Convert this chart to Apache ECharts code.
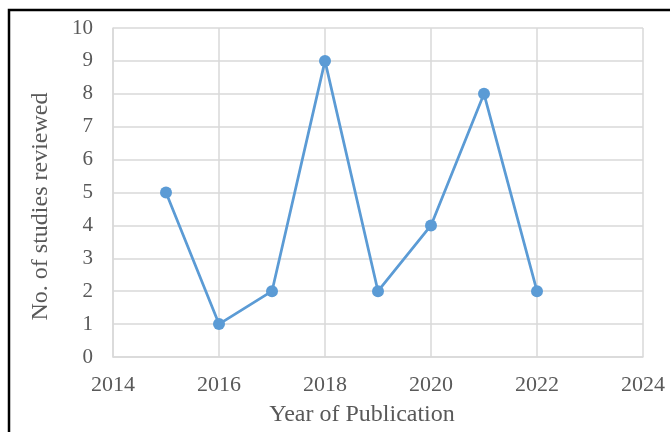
<!DOCTYPE html>
<html>
<head>
<meta charset="utf-8">
<style>
  * { margin: 0; padding: 0; }
  #chart-container { width: 670px; height: 432px; background: #fff; }
</style>
</head>
<body>
<div id="chart-container"></div>
<script src="https://cdn.jsdelivr.net/npm/echarts@6/dist/echarts.min.js"></script>
<script>
var years = [2015, 2016, 2017, 2018, 2019, 2020, 2021, 2022];
var studies = [5, 1, 2, 9, 2, 4, 8, 2];

var chart = echarts.init(document.getElementById('chart-container'), null, { renderer: 'canvas' });

var textColor = '#595959';
var gridColor = '#D9D9D9';
var font = '"Liberation Serif", "DejaVu Serif", serif';

var option = {
  animation: false,
  graphic: [{
    type: 'rect',
    shape: { x: 9, y: 10, width: 700, height: 460 },
    style: { fill: 'none', stroke: '#000', lineWidth: 2.5 }
  }],
  grid: { left: 113, right: 27, top: 28, bottom: 74 },
  xAxis: {
    type: 'value',
    min: 2014,
    max: 2024,
    interval: 2,
    name: 'Year of Publication',
    nameLocation: 'middle',
    nameGap: 46,
    nameTextStyle: { color: textColor, fontSize: 24, fontFamily: font, padding: [0, 32, 0, 0] },
    axisLine: { show: true, lineStyle: { color: gridColor, width: 1.5 } },
    axisTick: { show: false },
    axisLabel: {
      color: textColor, fontSize: 22, fontFamily: font, margin: 17,
      formatter: function (v) { return String(v); }
    },
    splitLine: { show: true, lineStyle: { color: gridColor, width: 1.5 } }
  },
  yAxis: {
    type: 'value',
    min: 0,
    max: 10,
    interval: 1,
    name: 'No. of studies reviewed',
    nameLocation: 'middle',
    nameGap: 60,
    nameTextStyle: { color: textColor, fontSize: 24, fontFamily: font, padding: [0, 28, 0, 0] },
    axisLine: { show: true, lineStyle: { color: gridColor, width: 1.5 } },
    axisTick: { show: false },
    axisLabel: { color: textColor, fontSize: 21, fontFamily: font, margin: 20 },
    splitLine: { show: true, lineStyle: { color: gridColor, width: 1.5 } }
  },
  series: [{
    type: 'line',
    data: years.map(function (y, i) { return [y, studies[i]]; }),
    symbol: 'circle',
    symbolSize: 12,
    lineStyle: { color: '#5B9BD5', width: 2.75 },
    itemStyle: { color: '#5B9BD5' }
  }]
};

chart.setOption(option);
window.addEventListener('resize', chart.resize);
</script>
</body>
</html>
